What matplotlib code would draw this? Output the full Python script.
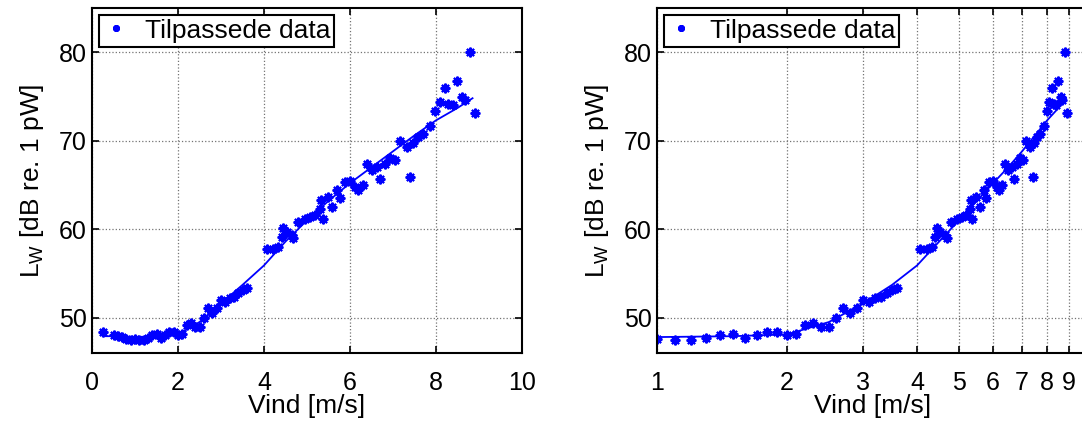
import numpy as np
import matplotlib
matplotlib.use('Agg')
import matplotlib.pyplot as plt

plt.rcParams['font.family'] = ['Liberation Sans', 'DejaVu Sans']
plt.rcParams['mathtext.default'] = 'regular'

# measured (fitted) data: wind speed [m/s] and sound power level [dB re. 1 pW]
vind = [0.25, 0.5, 0.6, 0.7, 0.8, 0.9, 1.0, 1.1, 1.2, 1.3, 1.4, 1.5, 1.6, 1.7, 1.8, 1.9,
        2.0, 2.1, 2.2, 2.3, 2.4, 2.5, 2.6, 2.7, 2.8, 2.9, 3.0, 3.1, 3.2, 3.3, 3.4, 3.5, 3.6,
        4.06, 4.21, 4.33, 4.41, 4.45, 4.53, 4.64, 4.68, 4.79, 4.95, 5.07, 5.19, 5.30, 5.37,
        5.32, 5.49, 5.58, 5.70, 5.77, 5.88, 6.0, 6.12, 6.19, 6.30, 6.39, 6.51, 6.62, 6.70,
        6.81, 6.93, 7.05, 7.16, 7.32, 7.40, 7.47, 7.58, 7.70, 7.86, 7.98, 8.09, 8.21, 8.29,
        8.40, 8.49, 8.60, 8.67, 8.79, 8.91]
lw_data = [48.4, 48.0, 47.9, 47.8, 47.6, 47.5, 47.6, 47.5, 47.5, 47.7, 48.0, 48.2, 47.7, 48.0, 48.4, 48.4,
           48.0, 48.2, 49.2, 49.4, 48.9, 48.9, 50.0, 51.1, 50.5, 51.1, 52.0, 51.8, 52.2, 52.3, 52.8, 53.1, 53.3,
           57.8, 57.8, 58.0, 59.1, 60.1, 59.7, 59.3, 59.0, 60.8, 61.2, 61.4, 61.6, 62.3, 61.2,
           63.3, 63.6, 62.5, 64.4, 63.5, 65.3, 65.5, 64.8, 64.4, 65.0, 67.4, 66.7, 67.0, 65.7,
           67.4, 68.0, 67.8, 70.0, 69.3, 65.9, 69.7, 70.4, 70.8, 71.7, 73.4, 74.4, 75.9, 74.2,
           74.0, 76.8, 74.9, 74.6, 80.0, 73.1]

# regression curve
vind_fit = [0.25, 0.5, 1.0, 1.5, 2.0, 2.5, 3.0, 3.5, 4.0, 4.5, 5.0, 5.5, 6.0, 6.5, 7.0, 7.5,
            8.0, 8.5, 8.85]
lw_fit = [47.9, 47.9, 47.8, 47.9, 48.1, 49.5, 51.6, 53.7, 55.9, 58.6, 61.0, 63.2, 65.2, 67.0,
          68.8, 70.6, 72.3, 73.7, 74.8]

W, H = 1082, 426
fig = plt.figure(figsize=(W / 100, H / 100), dpi=100)
ax1 = fig.add_axes([92 / W, (H - 353) / H, 430 / W, 345 / H])
ax2 = fig.add_axes([657 / W, (H - 353) / H, 432 / W, 345 / H])

blue = (0, 0, 1)
for ax in (ax1, ax2):
    ax.plot(vind, lw_data, linestyle='none', marker=(8, 2, 0), markersize=7,
            markeredgewidth=1.5, color=blue, label='Tilpassede data')
    ax.plot(vind_fit, lw_fit, '-', color=blue, linewidth=1.3)
    ax.set_ylim(46, 85)
    ax.set_yticks([50, 60, 70, 80])
    ax.grid(True, linestyle=':', color='0.45', linewidth=0.9)
    ax.tick_params(direction='in', top=True, right=True, labelsize=18, length=5,
                   width=1.2, pad=4)
    ax.tick_params(axis='x', pad=13)
    for s in ax.spines.values():
        s.set_linewidth(1.5)
    ax.set_xlabel('Vind [m/s]', fontsize=19, labelpad=-1)
    ax.set_ylabel(r'L$_W$ [dB re. 1 pW]', fontsize=19, labelpad=9)
    leg = ax.legend(loc='upper left', numpoints=1, fontsize=19, handlelength=1.0,
                    handletextpad=0.6, borderpad=0.15, borderaxespad=0.25,
                    fancybox=False, framealpha=1, edgecolor='black', markerscale=0.7)
    leg.get_frame().set_linewidth(1.5)

ax1.set_xlim(0, 10)
ax1.set_xticks([0, 2, 4, 6, 8, 10])

ax2.set_xscale('log')
ax2.set_xlim(1, 10)
ax2.set_xticks([1, 2, 3, 4, 5, 6, 7, 8, 9])
ax2.set_xticklabels(['1', '2', '3', '4', '5', '6', '7', '8', '9'])
ax2.minorticks_off()

fig.savefig('out.png', dpi=100)
